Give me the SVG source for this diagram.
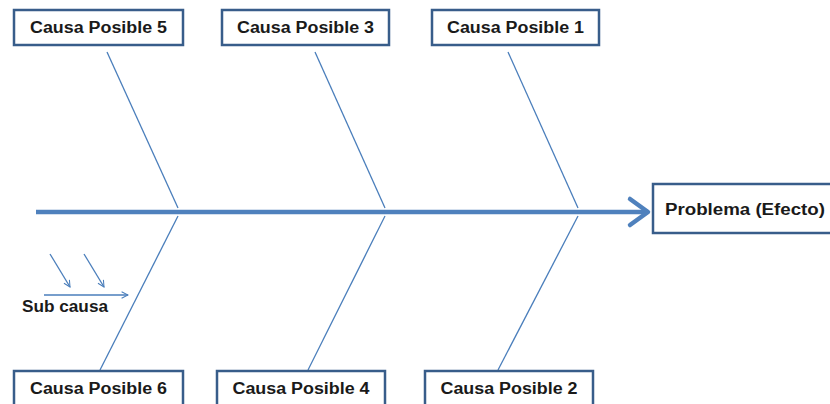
<svg xmlns="http://www.w3.org/2000/svg" width="830" height="404" viewBox="0 0 830 404">
<style>
.box{fill:#fff;stroke:#385d8a;stroke-width:2.5}
.lbl{font-family:"Liberation Sans",Arial,sans-serif;font-weight:bold;font-size:16px;fill:#1a1a1a;text-anchor:middle}
.bone{stroke:#4a7ebb;stroke-width:1.3;fill:none}
</style>
<defs>
<marker id="sm" viewBox="0 0 10 10" refX="9" refY="5" markerWidth="8" markerHeight="8" markerUnits="userSpaceOnUse" orient="auto">
<path d="M1,1 L9,5 L1,9" fill="none" stroke="#4a7ebb" stroke-width="1.3"/>
</marker>
</defs>
<rect width="830" height="404" fill="#fff"/>
<g id="connectors">
<line x1="36" y1="212" x2="648" y2="212" stroke="#4f81bd" stroke-width="4.5"/>
<path d="M630,199 L648,212 L630,225" fill="none" stroke="#4f81bd" stroke-width="4.5" stroke-linecap="round" stroke-linejoin="round"/>
<line class="bone" x1="107" y1="52" x2="178" y2="208"/>
<line class="bone" x1="315" y1="52" x2="385" y2="208"/>
<line class="bone" x1="508" y1="52" x2="578" y2="208"/>
<line class="bone" x1="178" y1="216" x2="100" y2="370"/>
<line class="bone" x1="385" y1="216" x2="308" y2="370"/>
<line class="bone" x1="578" y1="216" x2="498" y2="370"/>
<line class="bone" x1="50" y1="254" x2="70" y2="287" marker-end="url(#sm)"/>
<line class="bone" x1="84" y1="254" x2="104" y2="287" marker-end="url(#sm)"/>
<line class="bone" x1="44" y1="295" x2="128" y2="295" marker-end="url(#sm)"/>
</g>
<g id="causa5"><rect class="box" x="14" y="10" width="169" height="35"/><text class="lbl" x="98.5" y="33" textLength="137" lengthAdjust="spacingAndGlyphs">Causa Posible 5</text></g>
<g id="causa3"><rect class="box" x="222" y="10" width="167" height="35"/><text class="lbl" x="305.5" y="33" textLength="137" lengthAdjust="spacingAndGlyphs">Causa Posible 3</text></g>
<g id="causa1"><rect class="box" x="432" y="10" width="167" height="35"/><text class="lbl" x="515.5" y="33" textLength="137" lengthAdjust="spacingAndGlyphs">Causa Posible 1</text></g>
<g id="causa6"><rect class="box" x="14" y="371" width="169" height="40"/><text class="lbl" x="98.5" y="394" textLength="137" lengthAdjust="spacingAndGlyphs">Causa Posible 6</text></g>
<g id="causa4"><rect class="box" x="217" y="371" width="168" height="40"/><text class="lbl" x="301" y="394" textLength="137" lengthAdjust="spacingAndGlyphs">Causa Posible 4</text></g>
<g id="causa2"><rect class="box" x="425" y="371" width="168" height="40"/><text class="lbl" x="509" y="394" textLength="137" lengthAdjust="spacingAndGlyphs">Causa Posible 2</text></g>
<g id="problema"><rect class="box" x="653" y="184" width="190" height="49"/><text class="lbl" x="665" y="215" style="text-anchor:start" textLength="160" lengthAdjust="spacingAndGlyphs">Problema (Efecto)</text></g>
<g id="subcausa"><text class="lbl" x="22" y="312" style="text-anchor:start" textLength="86" lengthAdjust="spacingAndGlyphs">Sub causa</text></g>
</svg>
